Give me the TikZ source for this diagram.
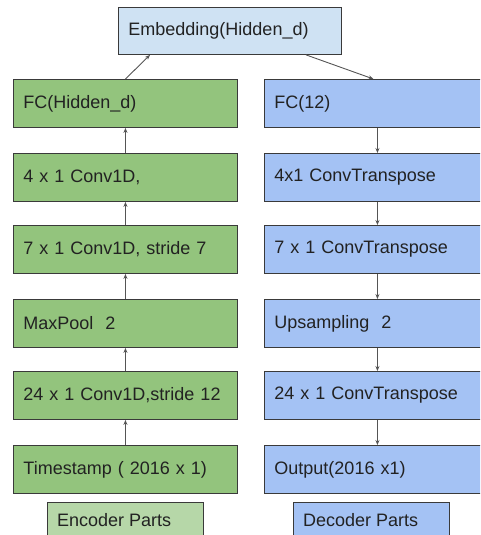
\documentclass[tikz,border=0pt]{standalone}
\usepackage{fontspec}
\setmainfont{Liberation Sans}
\usetikzlibrary{arrows.meta,calc}
\definecolor{encgreen}{HTML}{93C47D}
\definecolor{declblue}{HTML}{A4C2F4}
\definecolor{embblue}{HTML}{CFE2F3}
\definecolor{lightgreen}{HTML}{B6D7A8}
\definecolor{edgegray}{HTML}{3A3A3A}
\definecolor{arrowgray}{HTML}{555555}
\definecolor{txt}{HTML}{222222}
\begin{document}
\begin{tikzpicture}[x=1pt,y=1pt,
  layer/.style={draw=edgegray, line width=0.9pt, anchor=north west, inner xsep=10pt, inner ysep=0pt,
    minimum height=48pt, align=left, text=txt, font=\fontsize{18}{22}\selectfont},
  enc/.style={layer, fill=encgreen, text width=204pt},
  dec/.style={layer, fill=declblue, text width=206pt},
  flow/.style={draw=arrowgray, line width=0.9pt, -{Stealth[length=5pt,width=4pt]}}]
\useasboundingbox (0,0) rectangle (480,-535);
\begin{scope}
\clip (0,0) rectangle (480,-535);
% shared embedding
\node[layer, fill=embblue, text width=203pt, minimum height=47pt] (emb) at (118,-7) {Embedding(Hidden\_d)};
% encoder column
\node[enc] (e6) at (13,-79)  {FC(Hidden\_d)};
\node[enc] (e5) at (13,-153) {4 x 1 Conv1D,};
\node[enc] (e4) at (13,-225) {7 x 1 Conv1D, stride 7};
\node[enc] (e3) at (13,-299) {MaxPool\ \ 2};
\node[enc] (e2) at (13,-371) {24 x 1 Conv1D,stride 12};
\node[enc] (e1) at (13,-445) {Timestamp ( 2016 x 1)};
% decoder column
\node[dec] (d1) at (264,-79)  {FC(12)};
\node[dec] (d2) at (264,-153) {4x1 ConvTranspose};
\node[dec] (d3) at (264,-225) {7 x 1 ConvTranspose};
\node[dec] (d4) at (264,-299) {Upsampling\ \ 2};
\node[dec] (d5) at (264,-371) {24 x 1 ConvTranspose};
\node[dec] (d6) at (264,-445) {Output(2016 x1)};
% legend
\node[layer, fill=lightgreen, text width=136pt, minimum height=40pt, anchor=north west] (leg1) at (47,-502) {};
\node[anchor=west, inner sep=0pt, text=txt, font=\fontsize{18}{22}\selectfont] (leg1t) at (57,-520) {Encoder Parts};
\node[layer, fill=declblue, text width=136pt, minimum height=40pt, anchor=north west] (leg2) at (293,-502) {};
\node[anchor=west, inner sep=0pt, text=txt, font=\fontsize{18}{22}\selectfont] (leg2t) at (303,-520) {Decoder Parts};
% encoder flow (bottom to top)
\foreach \a/\b in {e1/e2,e2/e3,e3/e4,e4/e5,e5/e6}
  \draw[flow] (\a.north) -- (\b.south);
\draw[flow] (e6.north) -- ($(emb.south west)!0.143!(emb.south east)$);
% decoder flow (top to bottom)
\draw[flow] ($(emb.south west)!0.84!(emb.south east)$) -- ($(d1.north)+(-4,0)$);
\foreach \a/\b in {d1/d2,d2/d3,d3/d4,d4/d5,d5/d6}
  \draw[flow] (\a.south) -- (\b.north);
\end{scope}
\end{tikzpicture}
\end{document}
